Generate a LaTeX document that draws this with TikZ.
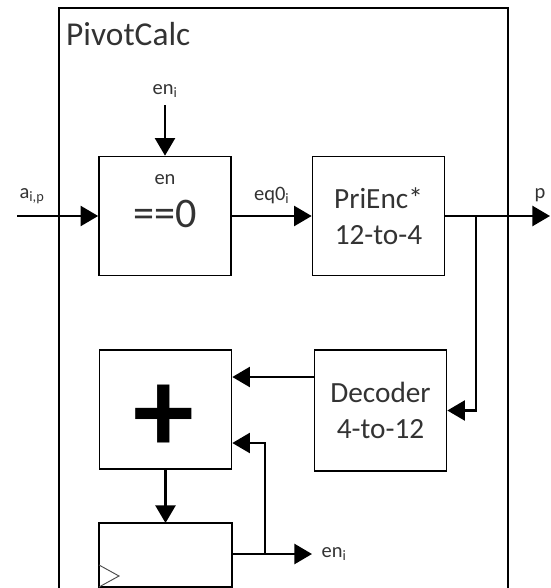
\documentclass[tikz,border=0pt]{standalone}
\usepackage{fontspec}
\setmainfont{Carlito}
\usetikzlibrary{arrows.meta, positioning, calc}

\begin{document}
\begin{tikzpicture}[
  x=0.03cm, y=-0.03cm,
  blk/.style={draw, line width=1.4pt, minimum width=3.96cm, minimum height=3.57cm, inner sep=0pt, text=black!80, align=center, font=\fontsize{25}{31}\selectfont},
  sig/.style={line width=2.2pt, -{Triangle[length=15pt, width=17pt]}},
  lbl/.style={text=black!80, inner sep=0pt, font=\fontsize{17.5}{20}\selectfont}
]
  \useasboundingbox (0,0) rectangle (550,588);

  % outer block
  \draw[line width=1.2pt] (59,600) -- (59,8) -- (508,8) -- (508,600);
  \node[anchor=base west, inner sep=0pt, text=black!80, font=\fontsize{28.5}{32}\selectfont] (title) at (66,45) {PivotCalc};

  % blocks
  \node[blk] (eqz) at (165,216) {};
  \node[lbl] (entag) at (165,180) {en};
  \node[text=black!80, inner sep=0pt, font=\fontsize{36}{40}\selectfont] (cmp) at (165,214) {==0};
  \node[blk] (prienc) at (378.5,216) {PriEnc*\\12-to-4};
  \node[blk, minimum height=3.63cm] (decoder) at (380.5,410.5) {Decoder\\4-to-12};
  \node[blk] (adder) at (165.5,409.5) {};
  \node[inner sep=0pt, font=\fontsize{104}{110}\selectfont\bfseries] (plus) at (164,419) {+};
  \draw[line width=1.4pt] (99,523) rectangle (232,587);
  \coordinate (reg) at (165.5,523);
  \coordinate (regout) at (232,554);
  \draw[line width=0.8pt, black!70] (99,565) -- (119,576) -- (99,587);

  % inputs
  \coordinate (enin) at (165,105);
  \node[lbl, above=6pt of enin] (enlbl) {en\textsubscript{i}};
  \draw[sig] (enin) -- (eqz.north);
  \coordinate (ain) at (17,216);
  \node[lbl] (alpha) at (32,196) {a\textsubscript{i,p}};
  \draw[sig] (ain) -- (eqz.west);

  % datapath
  \draw[sig] (eqz.east) -- node[lbl, above=9pt] (eqlbl) {eq0\textsubscript{i}} (prienc.west);
  \coordinate (pout) at (550,216);
  \coordinate (br) at (476,216);
  \draw[sig] (prienc.east) -- (pout);
  \node[lbl] (plbl) at (540,195) {p};
  \draw[sig] (br) |- (decoder.east);
  \draw[sig] (decoder.west |- 0,377) -- (adder.east |- 0,377);
  \draw[sig] (adder.south) -- (reg);

  % register output and feedback
  \coordinate (fb) at (265,554);
  \coordinate (enout) at (312,554);
  \draw[sig] (regout) -- (enout);
  \node[lbl, right=8pt of enout] (enolbl) {en\textsubscript{i}};
  \draw[sig] (fb) |- (adder.east |- 0,443);
\end{tikzpicture}
\end{document}
